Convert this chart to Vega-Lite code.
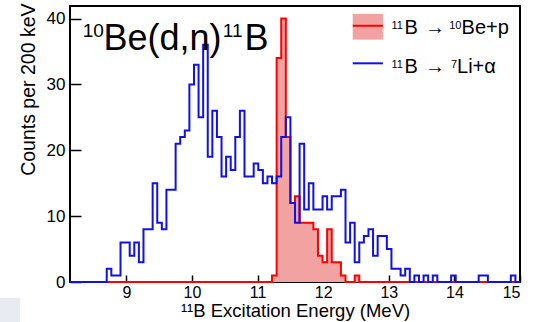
{
  "$schema": "https://vega.github.io/schema/vega-lite/v6.json",
  "width": 450,
  "height": 276,
  "autosize": {"type": "none"},
  "padding": {"left": 70, "top": 6, "right": 15, "bottom": 40},
  "background": "white",
  "config": {
    "view": {"stroke": "black", "strokeWidth": 2},
    "font": "Liberation Sans"
  },
  "datasets": {
    "hist": [
      {"E": 8.14, "blue": 0, "red": 0}, {"E": 8.21, "blue": 0, "red": 0}, {"E": 8.28, "blue": 0, "red": 0},
      {"E": 8.35, "blue": 0, "red": 0}, {"E": 8.42, "blue": 0, "red": 0}, {"E": 8.49, "blue": 0, "red": 0},
      {"E": 8.56, "blue": 0, "red": 0}, {"E": 8.63, "blue": 0, "red": 0}, {"E": 8.70, "blue": 2, "red": 0},
      {"E": 8.77, "blue": 1, "red": 0}, {"E": 8.84, "blue": 1, "red": 0}, {"E": 8.91, "blue": 6, "red": 0},
      {"E": 8.98, "blue": 6, "red": 0}, {"E": 9.05, "blue": 4, "red": 0}, {"E": 9.12, "blue": 6, "red": 0},
      {"E": 9.19, "blue": 3, "red": 0}, {"E": 9.26, "blue": 8, "red": 0}, {"E": 9.33, "blue": 8, "red": 0},
      {"E": 9.40, "blue": 15, "red": 0}, {"E": 9.47, "blue": 9, "red": 0}, {"E": 9.54, "blue": 8, "red": 0},
      {"E": 9.61, "blue": 14, "red": 0}, {"E": 9.68, "blue": 14, "red": 0}, {"E": 9.75, "blue": 21, "red": 0},
      {"E": 9.82, "blue": 22, "red": 0}, {"E": 9.89, "blue": 23, "red": 0}, {"E": 9.96, "blue": 30, "red": 0},
      {"E": 10.03, "blue": 33, "red": 0}, {"E": 10.10, "blue": 25, "red": 0}, {"E": 10.17, "blue": 36, "red": 0},
      {"E": 10.24, "blue": 19, "red": 0}, {"E": 10.31, "blue": 26, "red": 0}, {"E": 10.38, "blue": 22, "red": 0},
      {"E": 10.45, "blue": 16, "red": 0}, {"E": 10.52, "blue": 19, "red": 0}, {"E": 10.59, "blue": 17, "red": 0},
      {"E": 10.66, "blue": 22, "red": 0}, {"E": 10.73, "blue": 26, "red": 0}, {"E": 10.80, "blue": 16, "red": 0},
      {"E": 10.87, "blue": 16, "red": 0}, {"E": 10.94, "blue": 18, "red": 0}, {"E": 11.01, "blue": 17, "red": 0},
      {"E": 11.08, "blue": 15, "red": 0}, {"E": 11.15, "blue": 16, "red": 0}, {"E": 11.22, "blue": 15, "red": 1},
      {"E": 11.29, "blue": 16, "red": 34}, {"E": 11.36, "blue": 22, "red": 40}, {"E": 11.43, "blue": 25, "red": 22},
      {"E": 11.50, "blue": 12, "red": 12}, {"E": 11.57, "blue": 9, "red": 13}, {"E": 11.64, "blue": 21, "red": 9},
      {"E": 11.71, "blue": 11, "red": 9}, {"E": 11.78, "blue": 15, "red": 9}, {"E": 11.85, "blue": 11, "red": 8},
      {"E": 11.92, "blue": 11, "red": 4}, {"E": 11.99, "blue": 13, "red": 3}, {"E": 12.06, "blue": 11, "red": 8},
      {"E": 12.13, "blue": 13, "red": 3}, {"E": 12.20, "blue": 13, "red": 3}, {"E": 12.27, "blue": 14, "red": 1},
      {"E": 12.34, "blue": 6, "red": 0}, {"E": 12.41, "blue": 9, "red": 0}, {"E": 12.48, "blue": 3, "red": 1},
      {"E": 12.55, "blue": 6, "red": 0}, {"E": 12.62, "blue": 7, "red": 0}, {"E": 12.69, "blue": 8, "red": 0},
      {"E": 12.76, "blue": 4, "red": 0}, {"E": 12.83, "blue": 7, "red": 0}, {"E": 12.90, "blue": 7, "red": 0},
      {"E": 12.97, "blue": 5, "red": 0}, {"E": 13.04, "blue": 2, "red": 0}, {"E": 13.11, "blue": 2, "red": 0},
      {"E": 13.18, "blue": 1, "red": 0}, {"E": 13.25, "blue": 2, "red": 0}, {"E": 13.32, "blue": 0, "red": 0},
      {"E": 13.39, "blue": 1, "red": 0}, {"E": 13.46, "blue": 0, "red": 0}, {"E": 13.53, "blue": 1, "red": 0},
      {"E": 13.60, "blue": 0, "red": 0}, {"E": 13.67, "blue": 1, "red": 0}, {"E": 13.74, "blue": 0, "red": 0},
      {"E": 13.81, "blue": 0, "red": 0}, {"E": 13.88, "blue": 0, "red": 0}, {"E": 13.95, "blue": 1, "red": 0},
      {"E": 14.02, "blue": 0, "red": 0}, {"E": 14.09, "blue": 0, "red": 0}, {"E": 14.16, "blue": 0, "red": 0},
      {"E": 14.23, "blue": 0, "red": 0}, {"E": 14.30, "blue": 0, "red": 0}, {"E": 14.37, "blue": 1, "red": 0},
      {"E": 14.44, "blue": 1, "red": 0}, {"E": 14.51, "blue": 0, "red": 0}, {"E": 14.58, "blue": 0, "red": 0},
      {"E": 14.65, "blue": 0, "red": 0}, {"E": 14.72, "blue": 0, "red": 0}, {"E": 14.79, "blue": 0, "red": 0},
      {"E": 14.86, "blue": 1, "red": 0}, {"E": 14.93, "blue": 0, "red": 0}, {"E": 15.00, "blue": 0, "red": 0}
    ],
    "bigtext": [
      {"t": "10", "tx": 8.335, "ty": 37.2, "fs": "sup"},
      {"t": "Be(d,n)", "tx": 8.65, "ty": 35.2, "fs": "main"},
      {"t": "11", "tx": 10.47, "ty": 37.2, "fs": "sup"},
      {"t": "B", "tx": 10.80, "ty": 35.2, "fs": "main"}
    ],
    "legtext": [
      {"t": "11", "tx": 13.04, "ty": 38.4, "fs": "sup"},
      {"t": "B", "tx": 13.24, "ty": 37.6, "fs": "main"},
      {"t": "→", "tx": 13.55, "ty": 37.6, "fs": "main"},
      {"t": "10", "tx": 13.92, "ty": 38.4, "fs": "sup"},
      {"t": "Be+p", "tx": 14.11, "ty": 37.6, "fs": "main"},
      {"t": "11", "tx": 13.04, "ty": 32.5, "fs": "sup"},
      {"t": "B", "tx": 13.24, "ty": 31.7, "fs": "main"},
      {"t": "→", "tx": 13.55, "ty": 31.7, "fs": "main"},
      {"t": "7", "tx": 13.95, "ty": 32.5, "fs": "sup"},
      {"t": "Li+α", "tx": 14.04, "ty": 31.7, "fs": "main"}
    ],
    "one": [{"k": 1}]
  },
  "layer": [
    {
      "data": {"name": "one"},
      "mark": {"type": "rect", "fill": "#e8ebf1"},
      "encoding": {
        "x": {"datum": 7.07, "type": "quantitative", "scale": {"domain": [8.14, 15], "nice": false, "zero": false}},
        "x2": {"datum": 7.38},
        "y": {"datum": -2.4, "type": "quantitative", "scale": {"domain": [0, 41.9], "nice": false}},
        "y2": {"datum": -6.5}
      }
    },
    {
      "data": {"name": "hist"},
      "mark": {"type": "area", "interpolate": "step-after", "fill": "#f3a2a2"},
      "encoding": {
        "x": {"field": "E", "type": "quantitative", "scale": {"domain": [8.14, 15], "nice": false, "zero": false}},
        "y": {"field": "red", "type": "quantitative", "scale": {"domain": [0, 41.9], "nice": false}}
      }
    },
    {
      "data": {"name": "hist"},
      "mark": {"type": "line", "interpolate": "step-after", "stroke": "#ff0000", "strokeWidth": 2},
      "encoding": {
        "x": {"field": "E", "type": "quantitative"},
        "y": {"field": "red", "type": "quantitative"}
      }
    },
    {
      "data": {"name": "hist"},
      "mark": {"type": "line", "interpolate": "step-after", "stroke": "#1010e8", "strokeWidth": 2},
      "encoding": {
        "x": {
          "field": "E", "type": "quantitative",
          "scale": {"domain": [8.14, 15], "nice": false, "zero": false},
          "axis": {
            "values": [9, 10, 11, 12, 13, 14, 15], "format": "d",
            "domain": false, "grid": false,
            "tickSize": -7, "tickColor": "black", "tickWidth": 1.5,
            "labelFontSize": 16, "labelColor": "black", "labelPadding": 9,
            "title": "¹¹B Excitation Energy (MeV)", "titleFontSize": 18.5,
            "titleFontWeight": "normal", "titleColor": "black", "titleY": 19, "titleBaseline": "top"
          }
        },
        "y": {
          "field": "blue", "type": "quantitative",
          "scale": {"domain": [0, 41.9], "nice": false},
          "axis": {
            "values": [0, 10, 20, 30, 40], "format": "d",
            "domain": false, "grid": false,
            "tickSize": -11, "tickColor": "black", "tickWidth": 1.5,
            "labelFontSize": 17, "labelColor": "black", "labelPadding": 16,
            "title": "Counts per 200 keV", "titleFontSize": 19.5,
            "titleFontWeight": "normal", "titleColor": "black",
            "titleAngle": -90, "titleX": -42, "titleY": -3, "titleAlign": "right", "titleBaseline": "middle"
          }
        }
      }
    },
    {
      "data": {"name": "bigtext"},
      "mark": {"type": "text", "align": "left", "baseline": "alphabetic", "color": "black"},
      "encoding": {
        "x": {"field": "tx", "type": "quantitative"},
        "y": {"field": "ty", "type": "quantitative"},
        "text": {"field": "t"},
        "size": {"field": "fs", "type": "nominal", "scale": {"domain": ["sup", "main"], "range": [19, 36]}, "legend": null}
      }
    },
    {
      "data": {"name": "one"},
      "mark": {"type": "rect", "fill": "#f3a2a2"},
      "encoding": {
        "x": {"datum": 12.45, "type": "quantitative"},
        "x2": {"datum": 12.91},
        "y": {"datum": 40.7, "type": "quantitative"},
        "y2": {"datum": 36.8}
      }
    },
    {
      "data": {"name": "one"},
      "mark": {"type": "rule", "stroke": "#ff0000", "strokeWidth": 2},
      "encoding": {
        "x": {"datum": 12.45, "type": "quantitative"},
        "x2": {"datum": 12.91},
        "y": {"datum": 38.9, "type": "quantitative"}
      }
    },
    {
      "data": {"name": "one"},
      "mark": {"type": "rule", "stroke": "#1010e8", "strokeWidth": 2},
      "encoding": {
        "x": {"datum": 12.45, "type": "quantitative"},
        "x2": {"datum": 12.91},
        "y": {"datum": 33.2, "type": "quantitative"}
      }
    },
    {
      "data": {"name": "legtext"},
      "mark": {"type": "text", "align": "left", "baseline": "alphabetic", "color": "black"},
      "encoding": {
        "x": {"field": "tx", "type": "quantitative"},
        "y": {"field": "ty", "type": "quantitative"},
        "text": {"field": "t"},
        "size": {"field": "fs", "type": "nominal", "scale": {"domain": ["sup", "main"], "range": [11, 20]}, "legend": null}
      }
    }
  ],
  "resolve": {"scale": {"size": "independent"}}
}
